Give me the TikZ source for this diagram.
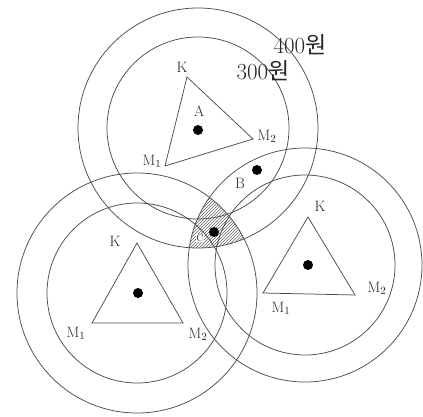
\documentclass[tikz,border=0pt]{standalone}
\usepackage{fontspec}
\newfontfamily\kr{Noto Sans CJK KR}
\usetikzlibrary{patterns}
\begin{document}
\begin{tikzpicture}[x=1pt,y=-1pt,
  ring/.style={draw=black!70,line width=.75pt},
  dot/.style={circle,fill=black,inner sep=0pt,minimum size=10pt},
  lab/.style={font=\fontsize{15}{15}\selectfont,text=black!85,inner sep=1pt},
  price/.style={font=\fontsize{23}{23}\selectfont,text=black!85,inner sep=0pt}]
\useasboundingbox (0,0) rectangle (423,417);
\clip (0,0) rectangle (423,417);
\coordinate (A) at (198,128); \coordinate (L) at (137,293); \coordinate (R) at (305,265);
% hatched part: inside all three 400 circles
\begin{scope}
\clip (A) circle (120pt); \clip (L) circle (120pt);
\fill[pattern=north east lines,pattern color=black!60] (R) circle (117pt);
\end{scope}
\foreach \c/\ro/\ri in {A/120/91,L/120/90,R/117/90}{
  \draw[ring] (\c) circle (\ro pt); \draw[ring] (\c) circle (\ri pt);}
% triangles K-M1-M2
\coordinate (AK) at (187,77); \coordinate (AM1) at (165,166); \coordinate (AM2) at (253,139);
\coordinate (LK) at (137,243); \coordinate (LM1) at (92,323); \coordinate (LM2) at (183,323);
\coordinate (RK) at (308,217); \coordinate (RM1) at (263,293); \coordinate (RM2) at (355,295);
\foreach \t in {A,L,R} \draw[ring] (\t K)--(\t M2)--(\t M1)--cycle;
\node[dot] (dA) at (198,130) {}; \node[dot] (dL) at (138,293) {}; \node[dot] (dR) at (308,265) {};
\node[dot] (dB) at (257,170) {}; \node[dot] (dC) at (214,232) {};
\node[lab] (kA) at (182,67) {K}; \node[lab] (m1A) at (152,161) {M$_1$}; \node[lab] (m2A) at (267,136) {M$_2$};
\node[lab] (kL) at (115,241) {K}; \node[lab] (m1L) at (76,333) {M$_1$}; \node[lab] (m2L) at (198,334) {M$_2$};
\node[lab] (kR) at (320,206) {K}; \node[lab] (m1R) at (281,308) {M$_1$}; \node[lab] (m2R) at (377,288) {M$_2$};
\node[lab] (tA) at (199,111) {A}; \node[lab] (tB) at (240,183) {B};
\node[lab,fill=white,font=\fontsize{10}{10}\selectfont,inner sep=.3pt] (tC) at (200,238) {C};
\node[price] (p400) at (300,45) {400{\kr 원}};
\node[price] (p300) at (263,71) {300{\kr 원}};
\end{tikzpicture}
\end{document}
